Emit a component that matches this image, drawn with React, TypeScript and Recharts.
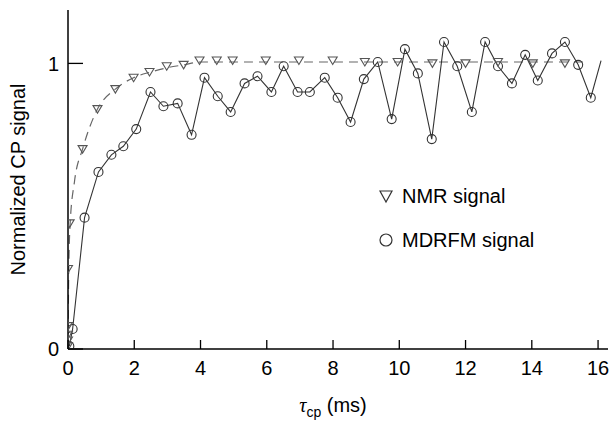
import { ComposedChart, Line, Scatter, XAxis, YAxis } from "recharts";

// NMR signal (triangles)
const nmrT = [0, 0, 0, 0, 0, 0.05, 0.44, 0.89, 1.43, 1.98, 2.46, 2.98, 3.49, 3.97, 4.49, 4.97, 5.97, 6.97, 7.99, 8.96, 9.95, 11.0, 12.0, 12.98, 14.03, 15.0];
const nmrV = [0.01, 0.03, 0.05, 0.08, 0.28, 0.44, 0.7, 0.84, 0.91, 0.95, 0.97, 0.99, 0.995, 1.01, 1.01, 1.01, 1.01, 1.01, 1.01, 1.005, 1.005, 1.0, 1.0, 1.005, 1.0, 1.0];

// dashed fit through the NMR points
const fitT = [0, 0.02, 0.06, 0.2, 0.44, 0.89, 1.43, 1.98, 2.5, 3.0, 3.5, 4.0, 15.6];
const fitV = [0, 0.25, 0.43, 0.59, 0.7, 0.84, 0.91, 0.95, 0.97, 0.985, 0.995, 1.005, 1.005];

// MDRFM signal (circles)
const mdT = [0.04, 0.14, 0.5, 0.92, 1.31, 1.67, 2.06, 2.49, 2.88, 3.31, 3.73, 4.12, 4.52, 4.91, 5.33, 5.72, 6.14, 6.51, 6.93, 7.3, 7.75, 8.14, 8.53, 8.93, 9.35, 9.77, 10.17, 10.56, 10.98, 11.35, 11.75, 12.19, 12.59, 12.98, 13.4, 13.8, 14.18, 14.61, 15.0, 15.4, 15.78, 16.09];
const mdV = [0.01, 0.07, 0.46, 0.62, 0.68, 0.71, 0.77, 0.9, 0.85, 0.86, 0.75, 0.95, 0.885, 0.83, 0.93, 0.955, 0.9, 0.99, 0.9, 0.9, 0.95, 0.88, 0.795, 0.945, 1.005, 0.805, 1.05, 0.965, 0.735, 1.075, 0.99, 0.83, 1.075, 0.99, 0.93, 1.03, 0.94, 1.035, 1.075, 0.995, 0.88, 1.01];

const xTicks = [0, 2, 4, 6, 8, 10, 12, 14, 16];
const yTicks = [0, 1];

const nmrData = nmrT.map((t, i) => ({ t, v: nmrV[i] }));
const fitData = fitT.map((t, i) => ({ t, v: fitV[i] }));
const mdData = mdT.map((t, i) => ({ t, v: mdV[i] }));

const FONT = "'Liberation Sans', Arial, Helvetica, sans-serif";

const XTick = (props: any) => {
  const { x, y, payload } = props;
  return (
    <g>
      <line x1={x} x2={x} y1={y - 12} y2={y - 21} stroke="#000" strokeWidth={1.3} />
      <text x={x} y={y} dy="0.71em" textAnchor="middle" fontSize={20} fontFamily={FONT} fill="#000">
        {payload.value}
      </text>
    </g>
  );
};

const YTick = (props: any) => {
  const { x, y, payload } = props;
  return (
    <g>
      <line x1={x + 9} x2={x + 24} y1={y} y2={y} stroke="#000" strokeWidth={1.3} />
      <text x={x} y={y} dy="0.36em" textAnchor="end" fontSize={20} fontFamily={FONT} fill="#000">
        {payload.value}
      </text>
    </g>
  );
};

const Tri = (props: any) => {
  const { cx, cy } = props;
  if (cx == null || cy == null) return null;
  return (
    <path
      d={`M${cx - 4.5},${cy - 3.5} L${cx + 4.5},${cy - 3.5} L${cx},${cy + 4} Z`}
      fill="none"
      stroke="#555"
      strokeWidth={1.1}
    />
  );
};

const Ring = (props: any) => {
  const { cx, cy, index } = props;
  if (index === mdData.length - 1) return <g key={`d${index}`} />;
  return <circle key={`d${index}`} cx={cx} cy={cy} r={4.5} fill="none" stroke="#333" strokeWidth={1.1} />;
};

const YLabel = (props: any) => {
  const vb = props.viewBox;
  const cx = vb.x + 18;
  const cy = vb.y + vb.height / 2;
  return (
    <text x={cx} y={cy} transform={`rotate(-90 ${cx} ${cy})`} textAnchor="middle" dy="0.36em" fontSize={20} fontFamily={FONT} fill="#000">
      Normalized CP signal
    </text>
  );
};

const XLabel = (props: any) => {
  const vb = props.viewBox;
  const cx = vb.x + vb.width / 2 - 5;
  return (
    <text x={cx} y={vb.y + 63} textAnchor="middle" fontSize={20} fontFamily={FONT} fill="#000">
      <tspan fontStyle="italic" fontFamily="'Liberation Serif', serif">τ</tspan>
      <tspan fontSize={14} dy={5}>cp</tspan>
      <tspan dy={-5}> (ms)</tspan>
    </text>
  );
};

export default function App() {
  return (
    <div style={{ position: "fixed", left: 0, top: 0, width: 613, height: 421, background: "#fff" }}>
      <ComposedChart width={613} height={421} margin={{ top: 10, right: 5, bottom: 0, left: 0 }}>
        <XAxis
          type="number"
          dataKey="t"
          domain={[0, 16.3]}
          ticks={xTicks}
          allowDataOverflow
          height={72}
          tickSize={0}
          tickMargin={12}
          tick={<XTick />}
          stroke="#000"
          strokeWidth={1.5}
          label={<XLabel />}
        />
        <YAxis
          type="number"
          dataKey="v"
          domain={[0, 1.187]}
          ticks={yTicks}
          allowDataOverflow
          width={68}
          tickSize={0}
          tickMargin={9}
          tick={<YTick />}
          stroke="#000"
          strokeWidth={1.5}
          label={<YLabel />}
        />
        <Line
          data={fitData}
          dataKey="v"
          type="monotone"
          stroke="#666"
          strokeWidth={1.2}
          strokeDasharray="9 6"
          dot={false}
          activeDot={false}
          isAnimationActive={false}
        />
        <Line
          data={mdData}
          dataKey="v"
          type="linear"
          stroke="#333"
          strokeWidth={1.1}
          dot={<Ring />}
          activeDot={false}
          isAnimationActive={false}
        />
        <Scatter data={nmrData} dataKey="v" shape={<Tri />} isAnimationActive={false} />
      </ComposedChart>
      <div style={{ position: "absolute", left: 378, top: 181, fontFamily: FONT, fontSize: 20, color: "#000", lineHeight: "30px" }}>
        <div style={{ display: "flex", alignItems: "center", height: 30 }}>
          <svg width={16} height={16} style={{ marginRight: 8 }}>
            <path d="M2,3 L14,3 L8,14 Z" fill="none" stroke="#333" strokeWidth={1.2} />
          </svg>
          NMR signal
        </div>
        <div style={{ display: "flex", alignItems: "center", height: 30, marginTop: 14 }}>
          <svg width={16} height={16} style={{ marginRight: 8 }}>
            <circle cx={8} cy={8} r={6} fill="none" stroke="#333" strokeWidth={1.2} />
          </svg>
          MDRFM signal
        </div>
      </div>
    </div>
  );
}
